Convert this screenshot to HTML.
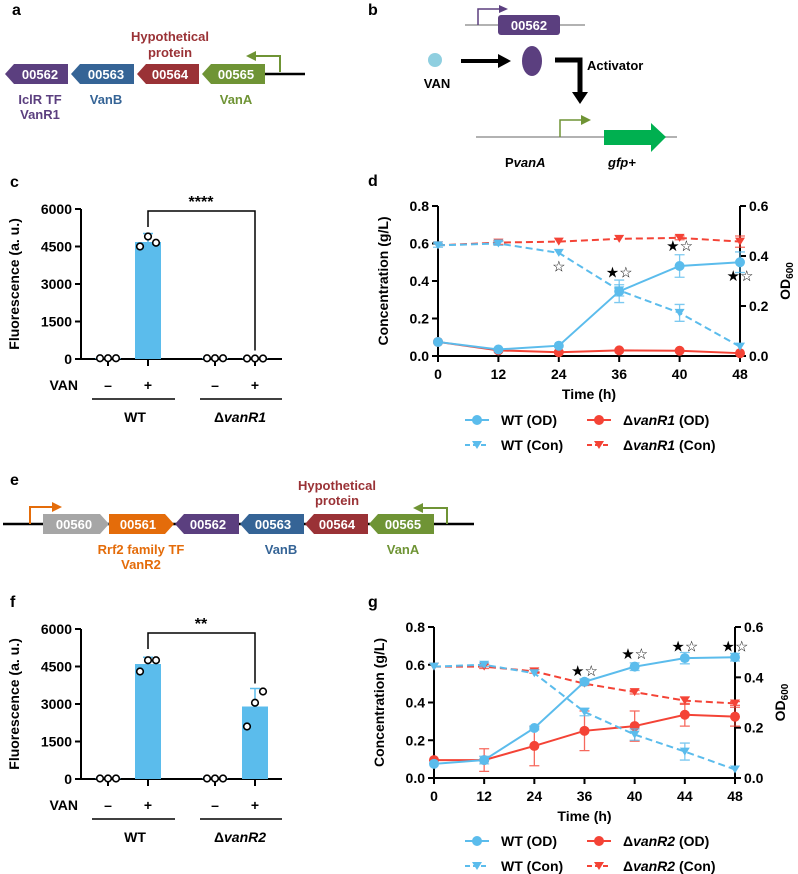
<!DOCTYPE html>
<html><head><meta charset="utf-8"><style>
body{margin:0;background:#fff;}
svg{display:block;font-family:"Liberation Sans",Arial,sans-serif;font-weight:bold;}
</style></head><body>
<svg id="fig" width="798" height="874" viewBox="0 0 798 874" xmlns="http://www.w3.org/2000/svg">
<!-- panel a -->
<g>
<text x="12" y="15" font-size="16">a</text>
<line x1="262" y1="74" x2="305" y2="74" stroke="#000" stroke-width="2.5"/>
<polygon points="5,74 14,64 68,64 68,84 14,84" fill="#5b3f7f"/>
<polygon points="71,74 80,64 134,64 134,84 80,84" fill="#356496"/>
<polygon points="137,74 146,64 199,64 199,84 146,84" fill="#9a3236"/>
<polygon points="202,74 211,64 265,64 265,84 211,84" fill="#6f9435"/>
<g fill="#fff" font-size="13" text-anchor="middle"><text x="40" y="79">00562</text><text x="106" y="79">00563</text><text x="170" y="79">00564</text><text x="236" y="79">00565</text></g>
<path d="M280,72 V56 H254" stroke="#6f9435" stroke-width="2" fill="none"/><polygon points="246,56 256,51 256,61" fill="#6f9435"/>
<g font-size="13" text-anchor="middle"><text x="40" y="104" fill="#5b3f7f">IclR TF</text><text x="40" y="119" fill="#5b3f7f">VanR1</text><text x="106" y="104" fill="#356496">VanB</text><text x="170" y="41" fill="#9a3236">Hypothetical</text><text x="170" y="57" fill="#9a3236">protein</text><text x="236" y="104" fill="#6f9435">VanA</text></g>
</g>
<!-- panel b -->
<g>
<text x="368" y="15" font-size="16">b</text>
<line x1="465" y1="25" x2="585" y2="25" stroke="#999" stroke-width="1.5"/>
<path d="M478,25 V9 H500" stroke="#5b3f7f" stroke-width="1.5" fill="none"/><polygon points="508,9 499,5 499,13" fill="#5b3f7f"/>
<rect x="498" y="15" width="62" height="20" rx="3" fill="#5b3f7f"/>
<text x="529" y="30" fill="#fff" font-size="13" text-anchor="middle">00562</text>
<circle cx="435" cy="60" r="7" fill="#8fcfe0"/>
<text x="437" y="88" font-size="13" text-anchor="middle">VAN</text>
<line x1="461" y1="61" x2="500" y2="61" stroke="#000" stroke-width="4"/><polygon points="511,61 498,54 498,68" fill="#000"/>
<ellipse cx="532" cy="61" rx="10" ry="15" fill="#5b3f7f"/>
<path d="M555,60 H580 V95" stroke="#000" stroke-width="5" fill="none"/><polygon points="572,92 588,92 580,104" fill="#000"/>
<text x="587" y="70" font-size="13">Activator</text>
<line x1="476" y1="137" x2="677" y2="137" stroke="#999" stroke-width="1.5"/>
<path d="M560,137 V120 H582" stroke="#6f9435" stroke-width="1.5" fill="none"/><polygon points="591,120 581,115 581,125" fill="#6f9435"/>
<polygon points="604,130 651,130 651,123 666,137 651,152 651,145 604,145" fill="#00b050"/>
<text x="505" y="167" font-size="13">P<tspan font-style="italic">vanA</tspan></text>
<text x="608" y="167" font-size="13" font-style="italic">gfp+</text>
</g>
<!-- panel e -->
<g>
<text x="10" y="485" font-size="16">e</text>
<line x1="3" y1="524" x2="474" y2="524" stroke="#000" stroke-width="2.5"/>
<polygon points="43,514 100,514 109,524 100,534 43,534" fill="#a6a6a6"/>
<polygon points="109,514 165,514 174,524 165,534 109,534" fill="#e46c0a"/>
<polygon points="175,524 184,514 239,514 239,534 184,534" fill="#5b3f7f"/>
<polygon points="240,524 249,514 304,514 304,534 249,534" fill="#356496"/>
<polygon points="305,524 314,514 368,514 368,534 314,534" fill="#9a3236"/>
<polygon points="369,524 378,514 434,514 434,534 378,534" fill="#6f9435"/>
<g fill="#fff" font-size="13" text-anchor="middle"><text x="74" y="529">00560</text><text x="138" y="529">00561</text><text x="208" y="529">00562</text><text x="273" y="529">00563</text><text x="337" y="529">00564</text><text x="403" y="529">00565</text></g>
<path d="M30,524 V507 H52" stroke="#e46c0a" stroke-width="2" fill="none"/><polygon points="62,507 52,502 52,512" fill="#e46c0a"/>
<path d="M447,524 V508 H423" stroke="#6f9435" stroke-width="2" fill="none"/><polygon points="413,508 423,503 423,513" fill="#6f9435"/>
<g font-size="13" text-anchor="middle"><text x="141" y="554" fill="#e46c0a">Rrf2 family TF</text><text x="141" y="569" fill="#e46c0a">VanR2</text><text x="281" y="554" fill="#356496">VanB</text><text x="337" y="490" fill="#9a3236">Hypothetical</text><text x="337" y="505" fill="#9a3236">protein</text><text x="403" y="554" fill="#6f9435">VanA</text></g>
</g>
<g id="c"></g><g id="f"></g><g id="d"></g><g id="g"></g>
</svg>
<script>
// ---- bar chart data ----
const barGroups = ["WT", "ΔvanR1"];
const barC = [30, 4680, 30, 20];
const dotsC = [[30,30,30],[4500,4900,4650],[30,30,30],[20,20,20]];
const barF = [20, 4600, 20, 2900];
const dotsF = [[20,20,20],[4300,4750,4750],[20,20,20],[2100,3050,3500]];
const barTicks = [0,1500,3000,4500,6000];
// ---- line chart data (left-axis units) ----
const timesD = ["0","12","24","36","40","48"];
const wtOdD = [0.075,0.035,0.055,0.345,0.48,0.50];
const wtOdErrD = [0,0,0,0.06,0.06,0.055];
const r1OdD = [0.075,0.03,0.02,0.03,0.028,0.015];
const r1OdErrD = [0,0,0,0,0,0];
const wtConD = [0.59,0.60,0.55,0.35,0.23,0.05];
const wtConErrD = [0.01,0.01,0,0.03,0.045,0];
const r1ConD = [0.59,0.605,0.61,0.625,0.63,0.61];
const r1ConErrD = [0,0.01,0,0,0.01,0.03];
const timesG = ["0","12","24","36","40","44","48"];
const wtOdG = [0.075,0.095,0.265,0.51,0.59,0.635,0.64];
const wtOdErrG = [0,0.02,0.01,0.015,0.02,0.03,0.02];
const r2OdG = [0.095,0.095,0.17,0.25,0.275,0.335,0.325];
const r2OdErrG = [0,0.06,0.105,0.105,0.08,0.06,0.05];
const wtConG = [0.59,0.60,0.555,0.35,0.23,0.14,0.045];
const wtConErrG = [0,0.01,0,0.02,0.03,0.045,0];
const r2ConG = [0.59,0.59,0.565,0.50,0.455,0.41,0.395];
const r2ConErrG = [0,0.01,0.01,0.01,0.01,0.02,0.01];
const yTicksL = [0,0.2,0.4,0.6,0.8];
const yTicksR = ["0.0","0.2","0.4","0.6"];

const NS="http://www.w3.org/2000/svg";
function mk(p,t,a,txt){const e=document.createElementNS(NS,t);for(const k in a)e.setAttribute(k,a[k]);if(txt!==undefined)e.textContent=txt;p.appendChild(e);return e;}
const BLUE="#5bbcec",RED="#f44336";

function barChart(id,label,y0,y6,vals,dots,mut,sig,sigY){
  const g=document.getElementById(id);
  
  
  const ys=v=>y0-(v/6000)*(y0-y6);
  const xs=[108,148,215,255];
  mk(g,'text',{x:10,y:y6-22,'font-size':16},label);
  mk(g,'line',{x1:81,y1:y6,x2:81,y2:y0,stroke:'#000','stroke-width':2});
  mk(g,'line',{x1:81,y1:y0,x2:282,y2:y0,stroke:'#000','stroke-width':2});
  barTicks.forEach(t=>{mk(g,'line',{x1:75,y1:ys(t),x2:81,y2:ys(t),stroke:'#000','stroke-width':2});
    const tx=mk(g,'text',{x:72,y:ys(t)+5,'font-size':14,'text-anchor':'end'},String(t));
    });
  const yl=mk(g,'text',{transform:`translate(19,${(y0+y6)/2}) rotate(-90)`,'font-size':14,'text-anchor':'middle'},'Fluorescence (a. u.)');
  
  vals.forEach((v,i)=>{
    const b=mk(g,'rect',{x:xs[i]-13,y:ys(v),width:26,height:y0-ys(v),fill:BLUE});
    
    
    mk(g,'line',{x1:xs[i],y1:y0,x2:xs[i],y2:y0+7,stroke:'#000','stroke-width':2});
    const mx=Math.max(...dots[i]);
    if(v>100){mk(g,'line',{x1:xs[i],y1:ys(v),x2:xs[i],y2:ys(mx)-3,stroke:BLUE,'stroke-width':1.5});mk(g,'line',{x1:xs[i]-5,y1:ys(mx)-3,x2:xs[i]+5,y2:ys(mx)-3,stroke:BLUE,'stroke-width':1.5});}
    dots[i].forEach((d,j)=>{const c=mk(g,'circle',{cx:xs[i]+(j-1)*8,cy:ys(d),r:3.3,fill:'#fff',stroke:'#000','stroke-width':1.6});
      });
    mk(g,'text',{x:xs[i],y:y0+31,'font-size':14,'text-anchor':'middle'},i%2?'+':'–');
  });
  mk(g,'text',{x:78,y:y0+31,'font-size':14,'text-anchor':'end'},'VAN');
  mk(g,'line',{x1:92,y1:y0+40,x2:175,y2:y0+40,stroke:'#000','stroke-width':1.5});
  mk(g,'line',{x1:200,y1:y0+40,x2:282,y2:y0+40,stroke:'#000','stroke-width':1.5});
  mk(g,'text',{x:135,y:y0+63,'font-size':14,'text-anchor':'middle'},'WT');
  const m=mk(g,'text',{x:240,y:y0+63,'font-size':14,'text-anchor':'middle'});
  m.innerHTML='Δ<tspan font-style="italic">'+mut+'</tspan>';
  mk(g,'path',{d:`M148,${sigY+16} V${sigY} H255 V${ys(Math.max(...dots[3]))-8}`,stroke:'#000','stroke-width':1.5,fill:'none'});
  const s=mk(g,'text',{x:201,y:sigY-4,'font-size':16,'text-anchor':'middle'},sig);
  
}
barChart('c','c',359,209,barC,dotsC,'vanR1','****',211);
barChart('f','f',779,629,barF,dotsF,'vanR2','**',633);

function lineChart(id,x0,x1,y0,y8,cats,series,mut,stars,legY){
  const g=document.getElementById(id);
  
  
  const xs=i=>x0+i*(x1-x0)/(cats.length-1);
  const ys=v=>y0-(v/0.8)*(y0-y8);
  mk(g,'text',{x:368,y:y8-20,'font-size':16},id);
  mk(g,'line',{x1:x0,y1:y8,x2:x0,y2:y0,stroke:'#000','stroke-width':2});
  mk(g,'line',{x1:x1,y1:y8,x2:x1,y2:y0,stroke:'#000','stroke-width':2});
  mk(g,'line',{x1:x0,y1:y0,x2:x1,y2:y0,stroke:'#000','stroke-width':2});
  yTicksL.forEach(t=>{mk(g,'line',{x1:x0-6,y1:ys(t),x2:x0,y2:ys(t),stroke:'#000','stroke-width':2});
    mk(g,'text',{x:x0-9,y:ys(t)+5,'font-size':14,'text-anchor':'end'},t.toFixed(1));});
  yTicksR.forEach((t,i)=>{const yy=y0-i*(y0-y8)/3;mk(g,'line',{x1:x1,y1:yy,x2:x1+6,y2:yy,stroke:'#000','stroke-width':2});
    mk(g,'text',{x:x1+9,y:yy+5,'font-size':14},t);});
  cats.forEach((c,i)=>{mk(g,'line',{x1:xs(i),y1:y0,x2:xs(i),y2:y0+6,stroke:'#000','stroke-width':2});
    mk(g,'text',{x:xs(i),y:y0+23,'font-size':14,'text-anchor':'middle'},c);});
  mk(g,'text',{x:(x0+x1)/2,y:y0+43,'font-size':14,'text-anchor':'middle'},'Time (h)');
  mk(g,'text',{transform:`translate(${x0-50},${(y0+y8)/2}) rotate(-90)`,'font-size':14,'text-anchor':'middle'},'Concentration (g/L)');
  const r=mk(g,'text',{transform:`translate(${x1+50},${(y0+y8)/2}) rotate(-90)`,'font-size':14,'text-anchor':'middle'});
  r.innerHTML='OD<tspan font-size="10" dy="3">600</tspan>';
  
  series.forEach(([arr,err,col,dash])=>{
    const p=mk(g,'polyline',{points:arr.map((v,i)=>xs(i)+','+ys(v)).join(' '),fill:'none',stroke:col,'stroke-width':2,'stroke-dasharray':dash?'7,4':'none'});
    
    arr.forEach((v,i)=>{
      const e=err[i];
      if(e>0){const x=xs(i);mk(g,'path',{d:`M${x},${ys(v+e)} V${ys(v-e)} M${x-5},${ys(v+e)} H${x+5} M${x-5},${ys(v-e)} H${x+5}`,stroke:col,'stroke-width':1.3,fill:'none','stroke-opacity':0.8});}
      let m;
      if(dash){const x=xs(i),y=ys(v);m=mk(g,'polygon',{points:`${x-5},${y-4} ${x+5},${y-4} ${x},${y+4}`,fill:col});}
      else m=mk(g,'circle',{cx:xs(i),cy:ys(v),r:5,fill:col});
      
    });
  });
  stars.forEach(([i,v,black])=>{
    const t=mk(g,'text',{x:xs(i),y:ys(v),'font-size':15,'text-anchor':'middle','font-weight':'normal'},black?'★☆':'☆');
    
  });
  const ent=[[465,legY,BLUE,false,'WT (OD)'],[587,legY,RED,false,'(OD)'],[465,legY+25,BLUE,true,'WT (Con)'],[587,legY+25,RED,true,'(Con)']];
  ent.forEach(([x,y,col,dash,lab],k)=>{
    mk(g,'line',{x1:x,y1:y,x2:x+24,y2:y,stroke:col,'stroke-width':2,'stroke-dasharray':dash?'5,3':'none'});
    if(dash)mk(g,'polygon',{points:`${x+7},${y-4} ${x+17},${y-4} ${x+12},${y+4}`,fill:col});else mk(g,'circle',{cx:x+12,cy:y,r:5,fill:col});
    const t=mk(g,'text',{x:x+36,y:y+5,'font-size':14});
    if(k%2)t.innerHTML='Δ<tspan font-style="italic">'+mut+'</tspan> '+lab;else t.textContent=lab;
    
  });
}
lineChart('d',438,740,356,206,timesD,[[r1ConD,r1ConErrD,RED,true],[r1OdD,r1OdErrD,RED,false],[wtConD,wtConErrD,BLUE,true],[wtOdD,wtOdErrD,BLUE,false]],'vanR1',[[2,0.45,false],[3,0.42,true],[4,0.56,true],[5,0.40,true]],420);
lineChart('g',434,735,778,627,timesG,[[r2ConG,r2ConErrG,RED,true],[r2OdG,r2OdErrG,RED,false],[wtConG,wtConErrG,BLUE,true],[wtOdG,wtOdErrG,BLUE,false]],'vanR2',[[3,0.54,true],[4,0.63,true],[5,0.67,true],[6,0.67,true]],841);
</script>
</body></html>
